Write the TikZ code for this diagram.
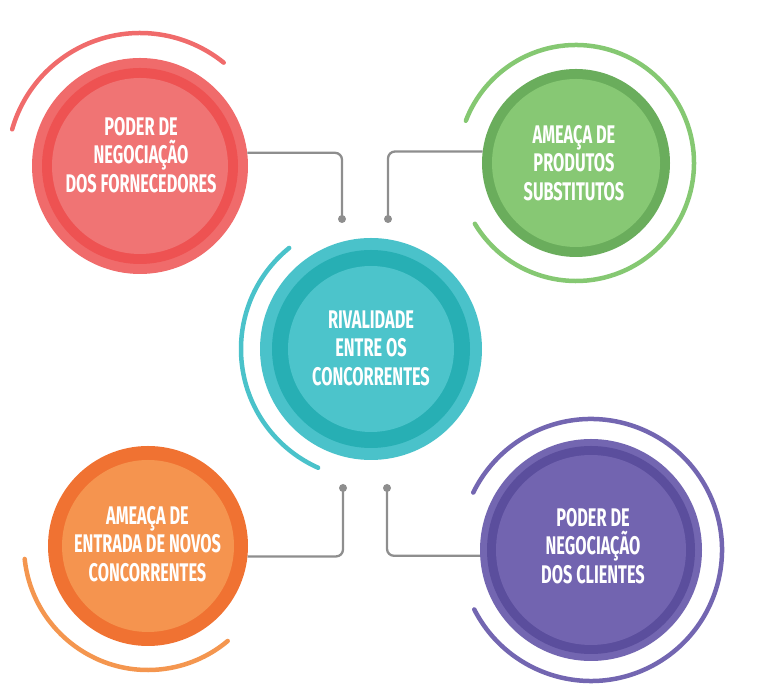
\documentclass[tikz,border=0pt]{standalone}
\usepackage{fontspec}
\setmainfont{Fira Sans}[FakeStretch=0.64]
\definecolor{redA}{HTML}{F06B6B}\definecolor{redB}{HTML}{EE5252}\definecolor{redC}{HTML}{F07474}
\definecolor{tealA}{HTML}{4AC2CA}\definecolor{tealB}{HTML}{27AFB4}\definecolor{tealC}{HTML}{4CC4CB}
\definecolor{greenB}{HTML}{6AAD5C}\definecolor{greenC}{HTML}{87C874}\definecolor{greenArc}{HTML}{85C872}
\definecolor{orangeB}{HTML}{F07232}\definecolor{orangeC}{HTML}{F5944F}\definecolor{orangeArc}{HTML}{F4964F}
\definecolor{purpleA}{HTML}{7366B1}\definecolor{purpleB}{HTML}{5B4E9D}\definecolor{purpleC}{HTML}{7264B0}
\definecolor{connC}{HTML}{8E8E8E}
\begin{document}
\begin{tikzpicture}[x=1pt,y=1pt,
  disk/.style args={#1/#2/#3/#4/#5/#6}{circle, inner sep=0pt, minimum size=2*#1, fill=#4,
    path picture={\fill[#5] (path picture bounding box.center) circle (#2);
                  \fill[#6] (path picture bounding box.center) circle (#3);}},
  label/.style={text=white, align=center, font=\bfseries\fontsize{25.5}{28.5}\selectfont},
  arcline/.style={line width=4.5pt, line cap=round},
  conn/.style={draw=connC, line width=2.3pt, rounded corners=7pt},
  dot/.style={circle, fill=connC, inner sep=0pt, minimum size=8pt}]
\useasboundingbox (0,0) rectangle (774,692);
% disks
\node[disk={108pt/98pt/88pt/redA/redB/redC}] (red) at (140,526) {};
\node[disk={94pt/93pt/84pt/greenB/greenB/greenC}] (green) at (576,529) {};
\node[disk={111pt/99pt/83pt/tealA/tealB/tealC}] (teal) at (371,343) {};
\node[disk={100pt/99pt/86pt/orangeB/orangeB/orangeC}] (orange) at (148,146) {};
\node[disk={111pt/104pt/95pt/purpleA/purpleB/purpleC}] (purple) at (591,142) {};
% arcs
\draw[arcline, draw=redA] (red.center) ++(51:133) arc (51:164:133);
\draw[arcline, draw=greenArc] (green.center) ++(-149:118) arc (-149:159:118);
\draw[arcline, draw=tealA] (teal.center) ++(129:130) arc (129:246:130);
\draw[arcline, draw=orangeArc] (orange.center) ++(186:124) arc (186:310:124);
\draw[arcline, draw=purpleA] (purple.center) ++(-153:131) arc (-153:154:131);
% connectors
\node[dot] (d1) at (342,473) {};
\node[dot] (d2) at (388,473) {};
\node[dot] (d3) at (343,204) {};
\node[dot] (d4) at (387,204) {};
\draw[conn] (red.7) -| (d1.center);
\draw[conn] (green.173) -| (d2.center);
\draw[conn] (orange.-6) -| (d3.center);
\draw[conn] (purple.183) -| (d4.center);
% texts
\node[label] (tred) at (141,537) {PODER DE\\NEGOCIAÇÃO\\DOS FORNECEDORES};
\node[label] (tgreen) at (574,529) {AMEAÇA DE\\PRODUTOS\\SUBSTITUTOS};
\node[label] (tteal) at (371,344) {RIVALIDADE\\ENTRE OS\\CONCORRENTES};
\node[label] (torange) at (147.5,148) {AMEAÇA DE\\ENTRADA DE NOVOS\\CONCORRENTES};
\node[label] (tpurple) at (593,146) {PODER DE\\NEGOCIAÇÃO\\DOS CLIENTES};
\end{tikzpicture}
\end{document}
